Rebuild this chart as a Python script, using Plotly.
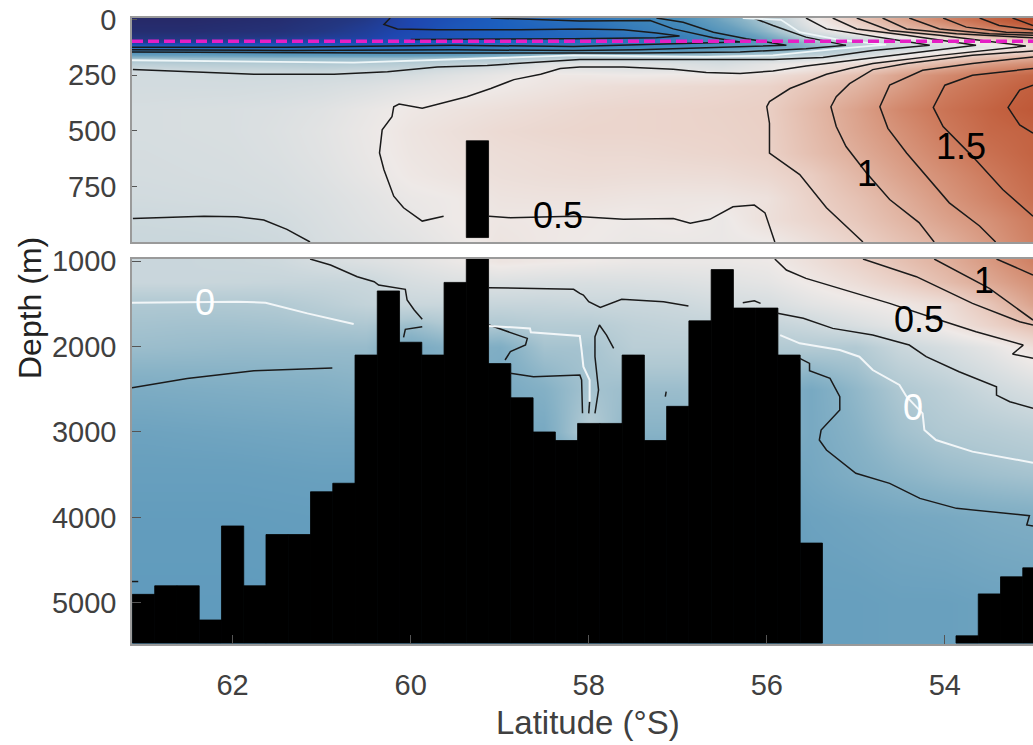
import plotly.graph_objects as go

# ---------- grid of the section ----------
lat_cols = [63, 62.5, 62, 61.5, 61, 60.5, 60, 59.5, 59, 58.5, 58, 57.5, 57, 56.5, 56, 55.5, 55, 54.5, 54, 53.5, 53]

depth_top = [0, 25, 50, 75, 100, 125, 150, 175, 200, 225, 250, 300, 400, 500, 600, 700, 800, 900, 1000]
t0    = [-4.3,-4.3,-4.2,-4.1,-3.8,-3.5,-3.0,-2.6,-2.2,-1.8,-1.5,-1.1,-.8,-.35,.0,.45,.8,1.1,1.4,1.7,2.05]
t25   = [-4.2,-4.2,-4.1,-4.0,-3.7,-3.4,-3.0,-2.5,-2.2,-1.9,-1.6,-1.2,-.9,-.45,-.05,.4,.7,1.0,1.25,1.55,1.8]
t50   = [-4.1,-4.1,-4.0,-3.9,-3.6,-3.3,-2.9,-2.5,-2.2,-2.0,-1.7,-1.3,-1.0,-.6,-.15,.3,.6,.85,1.05,1.3,1.5]
t75   = [-3.8,-3.8,-3.7,-3.6,-3.4,-3.2,-2.8,-2.5,-2.2,-2.0,-1.8,-1.5,-1.2,-.8,-.3,.15,.35,.55,.75,.95,1.05]
t100  = [-3.4,-3.3,-3.2,-3.1,-3.0,-2.9,-2.6,-2.4,-2.1,-1.9,-1.7,-1.5,-1.2,-.9,-.5,-.1,.1,.25,.4,.55,.7]
t125  = [-1.8,-1.9,-1.9,-1.9,-1.9,-1.9,-1.8,-1.6,-1.3,-1.1,-1.0,-1.0,-.9,-.6,-.4,-.2,.05,.2,.32,.42,.6]
t150  = [-.6,-.6,-.65,-.7,-.7,-.7,-.7,-.65,-.5,-.3,-.25,-.25,-.3,-.2,-.1,.05,.2,.4,.55,.7,.8]
t175  = [-.1,-.12,-.13,-.14,-.13,-.12,-.1,-.05,.0,.1,.18,.18,.18,.18,.22,.3,.4,.55,.75,.95,1.1]
t200  = [.1,.08,.06,.05,.03,.05,.08,.15,.22,.4,.42,.38,.35,.3,.42,.55,.65,.8,1.0,1.2,1.35]
t225  = [.25,.22,.2,.19,.17,.2,.22,.3,.38,.45,.42,.4,.4,.38,.45,.6,.75,1.0,1.2,1.4,1.55]
t250  = [.26,.26,.25,.25,.25,.26,.3,.38,.45,.52,.52,.5,.52,.52,.6,.72,.9,1.15,1.35,1.55,1.7]
t300  = [.27,.27,.27,.28,.3,.34,.4,.45,.5,.55,.6,.63,.65,.68,.72,.85,1.0,1.2,1.45,1.62,1.8]
t400  = [.3,.31,.32,.34,.38,.45,.52,.56,.6,.64,.68,.7,.71,.73,.76,.95,1.15,1.38,1.57,1.73,1.9]
t500  = [.3,.31,.32,.35,.4,.47,.55,.6,.65,.68,.7,.7,.71,.72,.75,.93,1.12,1.3,1.5,1.68,1.75]
t600  = [.29,.3,.31,.34,.39,.46,.54,.58,.62,.64,.66,.66,.68,.7,.74,.9,1.06,1.23,1.42,1.6,1.74]
t700  = [.28,.29,.3,.32,.37,.44,.52,.56,.6,.62,.63,.62,.62,.63,.68,.78,.97,1.15,1.32,1.5,1.68]
t800  = [.26,.27,.28,.3,.34,.4,.47,.5,.56,.57,.57,.55,.54,.54,.58,.74,.88,1.05,1.24,1.42,1.62]
t900  = [.22,.23,.24,.26,.32,.38,.44,.5,.53,.52,.51,.49,.52,.47,.6,.7,.82,.98,1.15,1.3,1.5]
t1000 = [.20,.20,.21,.23,.30,.35,.40,.47,.55,.52,.50,.47,.47,.47,.49,.60,.73,.88,1.03,1.22,1.45]
z_top = [t0,t25,t50,t75,t100,t125,t150,t175,t200,t225,t250,t300,t400,t500,t600,t700,t800,t900,t1000]

depth_bot = [1000, 1250, 1500, 1750, 2000, 2500, 3000, 3500, 4000, 5000, 5500]
b1000 = t1000
b1250 = [.2,.2,.19,.18,.18,.2,.3,.35,.35,.33,.32,.33,.35,.38,.42,.52,.62,.75,.92,1.1,1.3]
b1500 = [.0,.0,.01,.02,.08,.15,.2,.2,.18,.18,.2,.2,.22,.28,.3,.4,.47,.53,.62,.85,1.15]
b1750 = [-.05,-.06,-.06,-.05,-.03,-.01,-.1,.02,.0,.05,.05,.12,.15,.15,.15,.22,.32,.42,.55,.72,.9]
b2000 = [-.1,-.11,-.12,-.12,-.12,-.12,-.3,-.2,-.25,-.05,-.05,.08,.08,.08,.02,.03,.02,.2,.3,.42,.6]
b2500 = [-.27,-.26,-.25,-.24,-.23,-.2,-.3,-.3,-.3,-.22,-.05,-.1,-.1,-.05,-.2,-.3,-.15,.0,.1,.22,.32]
b3000 = [-.37,-.36,-.35,-.34,-.33,-.33,-.4,-.4,-.3,-.3,.05,-.2,-.2,-.1,-.2,-.3,-.2,-.07,.01,.05,.1]
b3500 = [-.42,-.42,-.42,-.41,-.4,-.4,-.4,-.4,-.4,-.4,-.4,-.4,-.4,-.4,-.4,-.32,-.25,-.18,-.12,-.08,-.05]
b4000 = [-.47,-.47,-.47,-.46,-.45,-.45,-.45,-.45,-.45,-.45,-.45,-.45,-.45,-.45,-.45,-.38,-.35,-.32,-.3,-.27,-.25]
b5000 = [-.5,-.5,-.5,-.5,-.5,-.5,-.5,-.5,-.5,-.5,-.5,-.5,-.5,-.5,-.5,-.42,-.42,-.4,-.4,-.38,-.37]
b5500 = b5000
z_bot = [b1000,b1250,b1500,b1750,b2000,b2500,b3000,b3500,b4000,b5000,b5500]

color_values = [-4.3,-3.6,-3.0,-2.2,-1.5,-.8,-.4,-.2,0,.25,.5,.75,1,1.25,1.5,1.75,2.1]
color_names = ["rgb(38,42,105)","rgb(35,55,130)","rgb(30,70,175)","rgb(28,95,190)","rgb(45,115,185)",
               "rgb(70,140,185)","rgb(105,160,190)","rgb(135,178,198)","rgb(175,200,210)","rgb(208,218,222)",
               "rgb(238,233,231)","rgb(234,208,198)","rgb(225,180,162)","rgb(215,150,125)","rgb(205,122,92)",
               "rgb(195,98,65)","rgb(185,75,42)"]

# ---------- bathymetry ----------
bathy_lat = [63,62.75,62.5,62.25,62,61.75,61.5,61.25,61,60.75,60.5,60.25,60,59.75,59.5,59.25,59,58.75,58.5,58.25,
             58,57.75,57.5,57.25,57,56.75,56.5,56.25,56,55.75,55.5,53.75,53.5,53.25,53]
bathy_depth = [4900,4800,4800,5200,4100,4800,4200,4200,3700,3600,2100,1350,1950,2100,1250,545,2200,2600,3000,3100,
               2900,2900,2100,3100,2700,1700,1100,1550,1550,2100,4300,5385,4895,4695,4590]
sea_floor_bottom = 5470
spike_lat = [59.25]
spike_depth = [545]
spike_end = 980
sill_lat = [57.04, 55.86]
sill_depth = [965, 965]

# ---------- contour lines (lat, depth) upper panel ----------
top_black = [
 ([59.63,59.87,60.08,60.19,60.30,60.35,60.32,60.21,60.19,60.13,59.87,59.37,59.10,58.84,58.54,58.32,58.10,57.61,57.05,56.68,56.30,55.93,55.56,55.18,54.43,53.65,54.43,54.99,55.26],
  [884,906,846,794,675,600,496,437,392,380,399,347,310,270,246,220,213,213,223,238,243,231,209,191,153,116,71,42,-7]),
 ([63.12,62.51,61.76,60.86,60.26,59.70,59.14,58.10,57.43,56.68,55.93,55.37,54.81,54.17,54.81,55.33,55.56],
  [225,235,246,246,235,213,206,180,180,183,180,171,139,116,76,42,-7]),
 ([54.92,55.33,55.63,55.97,55.97,56.00,55.97,55.74,55.33,55.07,54.81,54.06,53.09,54.06,54.62,54.99],
  [1000,846,697,600,466,392,369,310,246,220,198,161,119,71,49,-7]),
 ([54.12,54.29,54.62,54.88,55.11,55.22,55.28,55.22,55.07,54.81,54.43,53.69,53.01],
  [1000,913,809,690,571,481,392,347,288,225,198,161,141]),
 ([53.43,53.61,53.95,54.21,54.43,54.64,54.73,54.62,54.25,53.69,53.01],
  [1000,928,824,705,600,489,392,295,228,198,168]),
 ([53.01,53.35,53.69,54.02,54.13,54.00,53.69,53.01],[884,764,615,481,395,295,250,220]),
 ([53.01,53.16,53.29,53.16,53.01],[511,474,395,317,295]),
 ([55.91,56.02,56.14,56.38,56.64,56.86,57.05,57.61,58.17,58.62,58.88,59.12],[1000,869,834,842,898,916,894,898,884,888,891,884]),
 ([63.12,62.32,61.95,61.65,61.39,61.13],[894,884,886,901,943,1000]),
 ([60.23,60.30,60.15,59.70,58.77,58.10,57.61,57.24,56.98,57.24,58.17,59.10,60.0],[-7,22,42,46,46,42,46,60,74,82,86,88,90]),
 ([59.10,58.10,57.31,57.05,56.60,56.30,57.05,58.17,59.52,61.39,63.13],[-7,7,4,42,82,101,109,121,116,124,124]),
 ([57.24,56.94,56.60,56.23,55.78,56.68,57.43,58.17,59.52,61.39,63.13],[-7,12,57,86,116,127,136,139,136,139,136]),
 ([56.15,55.93,55.56,55.11,55.56,56.30,57.43,58.17,60.26,63.13],[-7,27,79,116,131,146,150,150,150,146]),
 ([54.70,54.43,53.87,53.01],[-7,42,64,82]),
 ([54.40,54.06,53.50,53.01],[-7,42,64,71]),
 ([54.02,53.76,53.31,53.01],[-7,34,57,60]),
 ([53.61,53.39,53.01],[-7,27,46]),
 ([53.24,53.01],[-7,27]),
]
top_white = [
 ([56.27,55.84,55.63,55.18,54.66,55.18,55.93,56.68,58.17,59.52,60.64,63.13],[-7,1,57,91,113,131,161,168,161,180,194,183]),
]

# ---------- contour lines (lat, depth) lower panel ----------
bot_black = [
 ([61.13,60.90,60.60,60.41,60.36,60.06,60.04,59.96,59.87],[976,1047,1183,1242,1281,1331,1456,1573,1682]),
 ([60.08,60.06,59.87],[1893,1799,1768]),
 ([59.12,58.17,58.10,58.06,58.00,57.87,57.63,57.16,56.88],[1312,1331,1378,1398,1476,1542,1448,1475,1526]),
 ([56.27,56.14,56.07],[1487,1464,1495]),
 ([63.13,62.51,61.76,60.88],[2482,2373,2283,2252]),
 ([59.12,58.81,58.69,58.71,58.88,58.94],[1749,1866,1905,1983,2060,2158]),
 ([58.88,58.62,58.10,58.08,58.07],[2314,2353,2334,2392,2782]),
 ([58.00,57.99],[2782,2645]),
 ([57.93,57.89,57.93,57.93,57.88,57.80,57.72],[2782,2509,2119,1885,1749,1866,2022]),
 ([57.14,57.13],[2587,2528]),
 ([55.91,55.78,55.56,54.62,54.06,53.65,53.12,53.24,53.01],[976,1105,1203,1495,1690,1827,1983,2088,2138]),
 ([54.92,54.32,53.69,53.16,53.01],[976,1183,1495,1710,1748]),
 ([54.12,53.50,53.01],[976,1320,1690]),
 ([53.42,53.01],[976,1163]),
 ([55.88,55.59,55.26,54.81,54.40,54.21,53.84,53.42,53.42,53.27,53.01],[1612,1670,1788,1866,1983,2119,2295,2470,2568,2646,2724]),
 ([55.63,55.52,55.52,55.29,55.18,55.18,55.39,55.41,55.33,55.00,54.62,54.28,53.87,53.05,53.08,53.01],
  [2139,2197,2283,2373,2587,2743,2977,3094,3211,3484,3601,3777,3894,3979,4088,4100]),
 ([63.13,63.06],[4750,4750]),
]
bot_white = [
 ([63.13,61.95,61.63,61.16,60.64],[1487,1475,1487,1612,1737]),
 ([59.12,58.66,58.65,58.10,58.08,58.06,57.99,57.99],[1760,1788,1834,1877,2041,2236,2392,2645]),
 ([55.85,55.63,55.18,54.96,54.81,54.51,54.43,54.25,54.23,54.10,53.69,53.01],[1866,1963,2041,2119,2275,2450,2587,2782,2977,3094,3230,3359]),
]

mld_lat = [63.13, 53.01]
mld_depth = [97, 97]

top_labels = [("0.5", 58.35, 880, "black"), ("1", 54.87, 690, "black"), ("1.5", 53.82, 570, "black")]
bot_labels = [("0", 62.31, 1480, "white"), ("0.5", 54.29, 1680, "black"), ("1", 53.56, 1230, "black"), ("0", 54.36, 2710, "white")]

x_ticks = [62, 60, 58, 56, 54]
y_ticks_top = [0, 250, 500, 750]
y_ticks_bot = [1000, 2000, 3000, 4000, 5000]

# ---------- figure ----------
cmin, cmax = color_values[0], color_values[-1]
cscale = [[(v - cmin) / (cmax - cmin), c] for v, c in zip(color_values, color_names)]
TICKFONT = dict(family="Liberation Sans", size=29, color="#404040")

fig = go.Figure()
for xa, ya, yy, zz in (("x", "y", depth_top, z_top), ("x2", "y2", depth_bot, z_bot)):
    fig.add_trace(go.Heatmap(x=lat_cols, y=yy, z=zz, colorscale=cscale, zmin=cmin, zmax=cmax,
                             zsmooth="best", showscale=False, xaxis=xa, yaxis=ya, hoverinfo="skip"))

bar_marker = dict(color="black", line=dict(width=0.8, color="black"))
fig.add_trace(go.Bar(x=bathy_lat, base=bathy_depth, y=[sea_floor_bottom - d for d in bathy_depth],
                     width=0.25, marker=bar_marker, xaxis="x2", yaxis="y2", hoverinfo="skip"))
fig.add_trace(go.Bar(x=spike_lat, base=spike_depth, y=[spike_end - d for d in spike_depth],
                     width=0.25, marker=bar_marker, xaxis="x", yaxis="y", hoverinfo="skip"))

def add_lines(lines, color, xa, ya, w):
    for lx, ly in lines:
        fig.add_trace(go.Scatter(x=lx, y=ly, mode="lines", line=dict(color=color, width=w),
                                 xaxis=xa, yaxis=ya, hoverinfo="skip"))

add_lines(top_black, "#1a1a1a", "x", "y", 1.5)
add_lines(top_white, "#eef6f8", "x", "y", 1.8)
add_lines(bot_black, "#1a1a1a", "x2", "y2", 1.5)
add_lines(bot_white, "#f2f6f8", "x2", "y2", 2)

fig.add_trace(go.Scatter(x=sill_lat, y=sill_depth, mode="lines", line=dict(color="black", width=2),
                         xaxis="x2", yaxis="y2", cliponaxis=False, hoverinfo="skip"))
fig.add_trace(go.Scatter(x=mld_lat, y=mld_depth, mode="lines", line=dict(color="#e51fc4", width=3.5, dash="11px,5px"),
                         xaxis="x", yaxis="y", hoverinfo="skip"))

annots = []
for txt, la, de, col in top_labels:
    annots.append(dict(text=txt, x=la, y=de, xref="x", yref="y", showarrow=False, xanchor="center", yanchor="middle",
                       font=dict(family="Liberation Sans", size=36, color=col)))
for txt, la, de, col in bot_labels:
    annots.append(dict(text=txt, x=la, y=de, xref="x2", yref="y2", showarrow=False, xanchor="center", yanchor="middle",
                       font=dict(family="Liberation Sans", size=36, color=col)))
annots.append(dict(text="Depth (m)", x=30 / 1033, y=1 - 308 / 745, xref="paper", yref="paper", textangle=-90,
                   xanchor="center", yanchor="middle",
                   showarrow=False, font=dict(family="Liberation Sans", size=32, color="#222222")))
annots.append(dict(text="Latitude (°S)", x=588 / 1033, y=1 - 722 / 745, xref="paper", yref="paper",
                   xanchor="center", yanchor="middle",
                   showarrow=False, font=dict(family="Liberation Sans", size=33, color="#404040")))

axis_common = dict(showgrid=False, zeroline=False, showline=True, mirror=True, linecolor="#9a9a9a", linewidth=1.5,
                   automargin=False)
fig.update_layout(
    width=1033, height=745, margin=dict(l=0, r=0, t=0, b=0), paper_bgcolor="white", plot_bgcolor="white",
    showlegend=False, barmode="overlay", annotations=annots,
    xaxis=dict(domain=[132 / 1033, 1], range=[63.13, 53.01], anchor="y", showticklabels=False, ticks="", **axis_common),
    yaxis=dict(domain=[1 - 242 / 745, 1 - 18 / 745], range=[1000, -7], anchor="x", tickvals=y_ticks_top,
               tickfont=TICKFONT, ticks="inside", ticklen=5, tickcolor="#555555", ticklabelstandoff=8, **axis_common),
    xaxis2=dict(domain=[132 / 1033, 1], range=[63.13, 53.01], anchor="y2", tickvals=x_ticks, tickfont=TICKFONT,
                ticks="inside", ticklen=9, tickcolor="#555555", ticklabelstandoff=14, **axis_common),
    yaxis2=dict(domain=[1 - 644 / 745, 1 - 259 / 745], range=[5481, 976], anchor="x2", tickvals=y_ticks_bot,
                tickfont=TICKFONT, ticks="inside", ticklen=9, tickcolor="#555555", ticklabelstandoff=8, **axis_common),
)

fig.write_html("out.html", post_script="document.body.style.margin='0';", config={"displayModeBar": False})
